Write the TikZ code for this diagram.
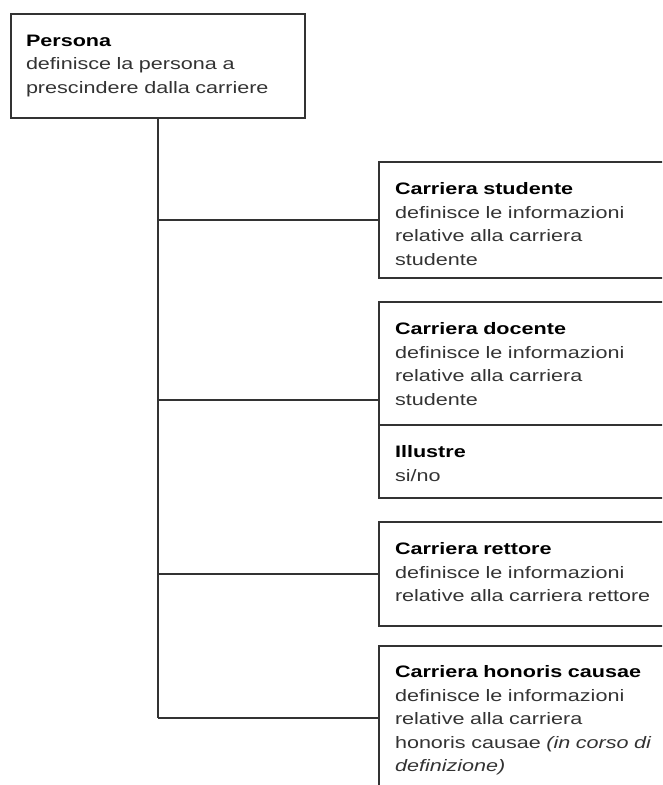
\documentclass[tikz,border=0pt]{standalone}
\usepackage{fontspec}
\setmainfont{Liberation Sans}[FakeStretch=1.3]
\definecolor{desc}{HTML}{333333}
\definecolor{edge}{HTML}{333333}
\begin{document}
\begin{tikzpicture}[x=1pt,y=-1pt,
  box/.style={draw=edge, line width=1.4pt, rectangle, anchor=north west, inner sep=0pt, outer sep=0pt},
  txt/.style={anchor=north west, inner sep=0pt, outer sep=0pt, align=left, text width=290pt, text=desc,
    font=\fontsize{16.6}{23.5}\selectfont},
  link/.style={draw=edge, line width=1.4pt}]
\useasboundingbox (0,0) rectangle (662,785);
\clip (0,0) rectangle (662,785);
% boxes
\node[box, minimum width=294pt, minimum height=104pt] (persona) at (11,14) {};
\node[box, minimum width=300pt, minimum height=116pt] (studente) at (379,162) {};
\node[box, minimum width=300pt, minimum height=196pt] (docente) at (379,302) {};
\node[box, minimum width=300pt, minimum height=104pt] (rettore) at (379,522) {};
\node[box, minimum width=300pt, minimum height=144pt] (honoris) at (379,646) {};
\coordinate (divL) at (379,425);
\coordinate (divR) at (680,425);
\draw[link] (divL) -- (divR);
% texts
\node[txt] (tpersona) at ([shift={(15,15.6)}]persona.north west)
  {\strut\textcolor{black}{\textbf{Persona}}\\definisce la persona a\\prescindere dalla carriere};
\node[txt] (tstudente) at ([shift={(16,16.5)}]studente.north west)
  {\strut\textcolor{black}{\textbf{Carriera studente}}\\definisce le informazioni\\relative alla carriera\\studente};
\node[txt] (tdocente) at ([shift={(16,16.5)}]docente.north west)
  {\strut\textcolor{black}{\textbf{Carriera docente}}\\definisce le informazioni\\relative alla carriera\\studente};
\node[txt] (tillustre) at ([shift={(16,16.5)}]divL)
  {\strut\textcolor{black}{\textbf{Illustre}}\\si/no};
\node[txt] (trettore) at ([shift={(16,16.5)}]rettore.north west)
  {\strut\textcolor{black}{\textbf{Carriera rettore}}\\definisce le informazioni\\relative alla carriera rettore};
\node[txt] (thonoris) at ([shift={(16,15.5)}]honoris.north west)
  {\strut\textcolor{black}{\textbf{Carriera honoris causae}}\\definisce le informazioni\\relative alla carriera\\honoris causae \textit{(in corso di}\\\textit{definizione)}};
% connectors
\coordinate (trunkend) at (persona.south |- honoris.west);
\draw[link] (persona.south) -- (trunkend);
\draw[link] (persona.south |- studente.west) -- (studente.west);
\draw[link] (persona.south |- docente.west) -- (docente.west);
\draw[link] (persona.south |- rettore.west) -- (rettore.west);
\draw[link] (trunkend) -- (honoris.west);
\end{tikzpicture}
\end{document}
